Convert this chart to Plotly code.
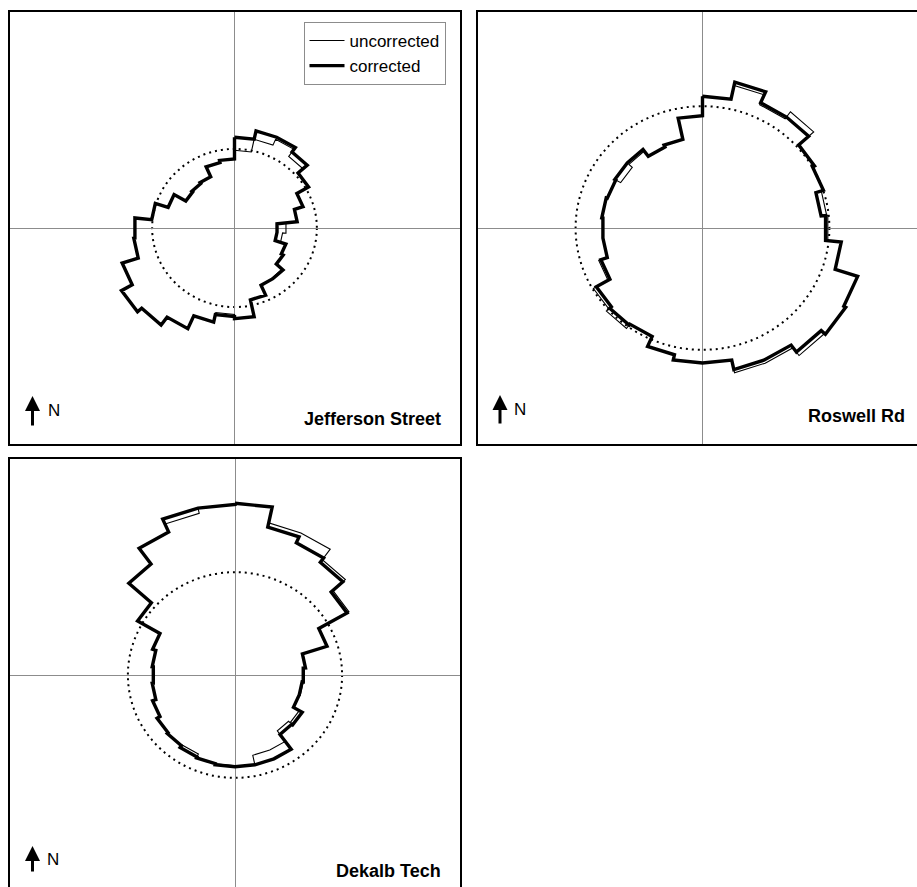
import numpy as np
import plotly.graph_objects as go

# Wind-direction roses: 30 sectors of 12 degrees, clockwise from north.
# Radii are relative to the half-width of each panel.
sector_width_deg = 12

site_names = ["Jefferson Street", "Roswell Rd", "Dekalb Tech"]

jefferson_uncorrected = [0.36, 0.42, 0.45, 0.41, 0.38, 0.32, 0.28, 0.23, 0.215, 0.24,
                         0.25, 0.285, 0.29, 0.34, 0.42, 0.40, 0.445, 0.51, 0.555, 0.58,
                         0.525, 0.45, 0.445, 0.37, 0.31, 0.25, 0.255, 0.26, 0.31, 0.32]
jefferson_corrected = [0.42, 0.46, 0.46, 0.435, 0.38, 0.32, 0.28, 0.19, 0.19, 0.24,
                       0.25, 0.29, 0.29, 0.34, 0.42, 0.41, 0.445, 0.51, 0.555, 0.58,
                       0.525, 0.45, 0.445, 0.37, 0.31, 0.25, 0.255, 0.26, 0.31, 0.32]

roswell_uncorrected = [0.61, 0.675, 0.625, 0.665, 0.575, 0.565, 0.555, 0.56, 0.62, 0.725,
                       0.735, 0.73, 0.685, 0.685, 0.625, 0.625, 0.60, 0.55, 0.575, 0.56,
                       0.485, 0.445, 0.445, 0.45, 0.445, 0.42, 0.44, 0.41, 0.42, 0.52]
roswell_corrected = [0.61, 0.69, 0.635, 0.635, 0.575, 0.565, 0.53, 0.55, 0.62, 0.725,
                     0.735, 0.71, 0.67, 0.67, 0.625, 0.625, 0.60, 0.55, 0.555, 0.545,
                     0.475, 0.445, 0.445, 0.45, 0.445, 0.45, 0.45, 0.41, 0.42, 0.52]

dekalb_uncorrected = [0.795, 0.72, 0.72, 0.66, 0.585, 0.43, 0.315, 0.31, 0.305, 0.30,
                      0.33, 0.32, 0.38, 0.38, 0.425, 0.42, 0.42, 0.40, 0.405, 0.40,
                      0.385, 0.37, 0.365, 0.37, 0.385, 0.50, 0.635, 0.725, 0.765, 0.79]
dekalb_corrected = [0.795, 0.70, 0.67, 0.645, 0.575, 0.43, 0.315, 0.305, 0.30, 0.30,
                    0.345, 0.34, 0.425, 0.425, 0.425, 0.425, 0.42, 0.415, 0.405, 0.40,
                    0.385, 0.37, 0.365, 0.37, 0.385, 0.50, 0.635, 0.725, 0.79, 0.79]

# radius of the dotted reference circle in each panel
reference_radii = [0.366, 0.564, 0.476]

uncorrected_sets = [jefferson_uncorrected, roswell_uncorrected, dekalb_uncorrected]
corrected_sets = [jefferson_corrected, roswell_corrected, dekalb_corrected]

W, H = 917, 887
FONT = "Liberation Sans, Arial, Helvetica, sans-serif"


def rose_outline(radii):
    """Stepped outline: a chord at constant radius across each sector,
    joined by radial steps at the sector edges (compass convention)."""
    radii = np.asarray(radii, dtype=float)
    edges = np.deg2rad(np.arange(len(radii) + 1) * sector_width_deg)
    theta = np.column_stack([edges[:-1], edges[1:]]).ravel()
    r = np.repeat(radii, 2)
    theta = np.append(theta, theta[0])
    r = np.append(r, r[0])
    return r * np.sin(theta), r * np.cos(theta)


def px(x):
    return x / W


def py(y):
    return 1 - y / H


# panel frames in pixels: left, right, top, bottom, and the axis ranges
panels = [
    dict(left=9.5, right=459.5, top=12, bottom=444, xr=[-1, 1], yr=[-1, 1],
         mirror_x=True, mirror_y=True, xside="bottom"),
    dict(left=477.5, right=917, top=12, bottom=444, xr=[-1, (917 - 702.5) / 225], yr=[-1, 1],
         mirror_x=True, mirror_y=False, xside="bottom"),
    dict(left=10, right=460, top=459, bottom=887, xr=[-1, 1], yr=[-(887 - 675) / 216, 1],
         mirror_x=False, mirror_y=True, xside="top"),
]

# label placement per panel (pixels)
arrow_x = [32.5, 500, 32.5]
arrow_tip = [396, 395, 846]
arrow_tail = [427, 425, 873]
north_left = [46, 512, 45]
north_mid = [410, 409, 859]
name_right = [443, 907, 443]
name_mid = [418.5, 415.5, 871]

fig = go.Figure()
layout_axes = {}
shapes = []
annotations = []

for i, p in enumerate(panels):
    n = "" if i == 0 else str(i + 1)
    xa, ya = "x" + n, "y" + n

    ux, uy = rose_outline(uncorrected_sets[i])
    cx, cy = rose_outline(corrected_sets[i])
    fig.add_trace(go.Scatter(x=ux, y=uy, mode="lines", name="uncorrected",
                             line=dict(color="black", width=1.1),
                             xaxis=xa, yaxis=ya, showlegend=(i == 0), hoverinfo="skip"))
    fig.add_trace(go.Scatter(x=cx, y=cy, mode="lines", name="corrected",
                             line=dict(color="black", width=3.4),
                             xaxis=xa, yaxis=ya, showlegend=(i == 0), hoverinfo="skip"))

    rr = reference_radii[i]
    shapes.append(dict(type="circle", xref=xa, yref=ya, x0=-rr, x1=rr, y0=-rr, y1=rr,
                       line=dict(color="black", width=2, dash="2px,4px"), layer="below"))

    common = dict(showgrid=False, showticklabels=False, ticks="", zeroline=True,
                  zerolinecolor="#8c8c8c", zerolinewidth=1, showline=True,
                  linecolor="black", linewidth=1.6, fixedrange=True)
    layout_axes["xaxis" + n] = dict(common, domain=[px(p["left"]), px(p["right"])],
                                    range=p["xr"], anchor=ya, mirror=p["mirror_x"],
                                    side=p["xside"])
    layout_axes["yaxis" + n] = dict(common, domain=[py(p["bottom"]), py(p["top"])],
                                    range=p["yr"], anchor=xa, mirror=p["mirror_y"])

    annotations.append(dict(xref="paper", yref="paper", x=px(arrow_x[i]), y=py(arrow_tip[i]),
                            text="", showarrow=True, ax=0, ay=arrow_tail[i] - arrow_tip[i],
                            arrowhead=2, arrowsize=1.0, arrowwidth=3, arrowcolor="black",
                            standoff=0, startstandoff=0))
    annotations.append(dict(xref="paper", yref="paper", x=px(north_left[i]), y=py(north_mid[i]),
                            text="N", showarrow=False, xanchor="left", yanchor="middle",
                            font=dict(family=FONT, size=17, color="black")))
    annotations.append(dict(xref="paper", yref="paper", x=px(name_right[i]), y=py(name_mid[i]),
                            text=site_names[i], showarrow=False, xanchor="right",
                            yanchor="middle",
                            font=dict(family=FONT, size=18, color="black", weight="bold")))

fig.update_layout(
    width=W, height=H, autosize=False,
    margin=dict(l=0, r=0, t=0, b=0),
    paper_bgcolor="white", plot_bgcolor="white",
    shapes=shapes, annotations=annotations,
    legend=dict(x=px(303.5), y=py(22), xanchor="left", yanchor="top",
                bgcolor="white", bordercolor="#8c8c8c", borderwidth=1,
                font=dict(family=FONT, size=17, color="black"),
                itemwidth=35, tracegroupgap=0),
    **layout_axes,
)

fig.write_html("out.html")
